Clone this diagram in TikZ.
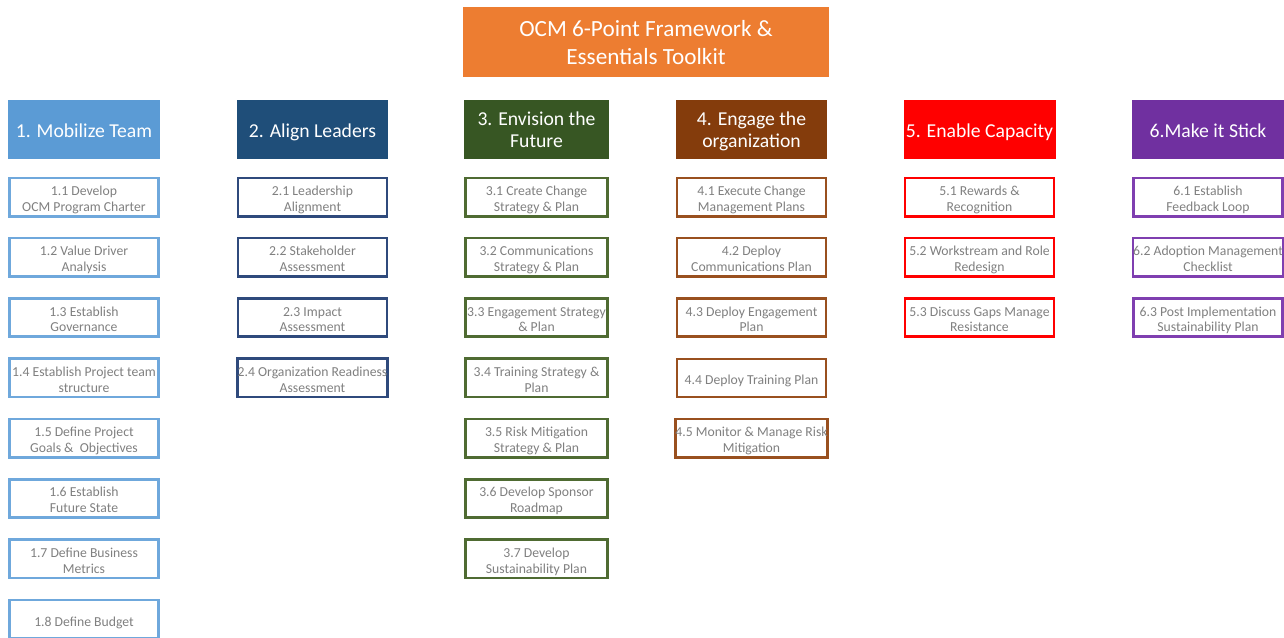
\documentclass[tikz,border=0pt]{standalone}
\usepackage{fontspec}
\setmainfont{Carlito}
\definecolor{ocmorange}{HTML}{ED7D31}
\definecolor{colA}{HTML}{5B9BD5}
\definecolor{colAline}{HTML}{6FA8DC}
\definecolor{colB}{HTML}{1F4E79}
\definecolor{colBline}{HTML}{2F4A7C}
\definecolor{colC}{HTML}{375623}
\definecolor{colCline}{HTML}{4F6B32}
\definecolor{colD}{HTML}{843C0C}
\definecolor{colDline}{HTML}{99501F}
\definecolor{colE}{HTML}{FF0000}
\definecolor{colF}{HTML}{7030A0}
\definecolor{colFline}{HTML}{7F3FB0}
\definecolor{boxgray}{HTML}{808080}
\newcommand\liftht{0pt}
\tikzset{
  lift/.store in=\liftht,
  lifted/.style={execute at begin node={\rule{0pt}{\liftht}}, execute at end node=\strut},
  hdr/.style={fill=#1, text=white, align=center, minimum width=3.04cm, minimum height=1.18cm,
    inner sep=0pt, font=\fontsize{11.2}{13}\selectfont, lifted, lift=24.8pt},
  hdrone/.style={hdr=#1, lift=12.8pt},
  box/.style={draw=#1, line width=1.5pt, fill=white, text=boxgray, align=center,
    minimum width=2.98cm, minimum height=0.76cm, inner sep=0pt, font=\fontsize{7.8}{9.1}\selectfont,
    lifted, lift=19.1pt},
  one/.style={lift=10.6pt},
  two/.style={}
}

\begin{document}
\begin{tikzpicture}[x=0.02cm,y=-0.02cm]
	\useasboundingbox (0,0) rectangle (1284,637);
	\clip (0,0) rectangle (1284,637);

	% title
	\node[hdr=ocmorange, minimum width=7.32cm, minimum height=1.4cm, font=\fontsize{13.2}{16}\selectfont, lift=30.3pt] (title) at (646,42) {OCM 6-Point Framework \&\\Essentials Toolkit};

	% column heads
	\node[hdrone=colA] (h1) at (84,129.5) {1. Mobilize Team};
	\node[hdrone=colB] (h2) at (312.5,129.5) {2. Align Leaders};
	\node[hdr=colC, minimum width=2.9cm] (h3) at (536.5,129.5) {3. Envision the\\Future};
	\node[hdr=colD] (h4) at (751.5,129.5) {4. Engage the\\organization};
	\node[hdrone=colE] (h5) at (979.5,129.5) {5. Enable Capacity};
	\node[hdrone=colF] (h6) at (1208,129.5) {6.Make it Stick};

	% 1
	\foreach \txt/\st [count=\i] in {{1.1 Develop\\OCM Program Charter}/two,{1.2 Value Driver\\Analysis}/two,{1.3 Establish\\Governance}/two,{1.4 Establish Project team\\structure}/two,{1.5 Define Project\\Goals \&\ \ Objectives}/two,{1.6 Establish\\Future State}/two,{1.7 Define Business\\Metrics}/two,{1.8 Define Budget}/one}
		\node[box=colAline, \st] (a\i) at (84,{197+60.3*(\i-1)}) {\txt};
	% 2
	\foreach \txt [count=\i] in {{2.1 Leadership\\Alignment},{2.2 Stakeholder\\Assessment},{2.3 Impact\\Assessment},{2.4 Organization Readiness\\Assessment}}
		\node[box=colBline] (b\i) at (312.5,{197+60.3*(\i-1)}) {\txt};
	% 3
	\foreach \txt [count=\i] in {{3.1 Create Change\\Strategy \& Plan},{3.2 Communications\\Strategy \& Plan},{3.3 Engagement Strategy\\\& Plan},{3.4 Training Strategy \&\\Plan},{3.5 Risk Mitigation\\Strategy \& Plan},{3.6 Develop Sponsor\\Roadmap},{3.7 Develop\\Sustainability Plan}}
		\node[box=colCline, minimum width=2.84cm] (c\i) at (536.5,{197+60.3*(\i-1)}) {\txt};
	% 4
	\foreach \txt/\st [count=\i] in {{4.1 Execute Change\\Management Plans}/two,{4.2 Deploy\\Communications Plan}/two,{4.3 Deploy Engagement\\Plan}/two,{4.4 Deploy Training Plan}/one,{4.5 Monitor \& Manage Risk\\Mitigation}/two}
		\node[box=colDline, \st] (d\i) at (751.5,{197+60.3*(\i-1)}) {\txt};
	% 5
	\foreach \txt [count=\i] in {{5.1 Rewards \&\\Recognition},{5.2 Workstream and Role\\Redesign},{5.3 Discuss Gaps Manage\\Resistance}}
		\node[box=colE] (e\i) at (979.5,{197+60.3*(\i-1)}) {\txt};
	% 6
	\foreach \txt [count=\i] in {{6.1 Establish\\Feedback Loop},{6.2 Adoption Management\\Checklist},{6.3 Post Implementation\\Sustainability Plan}}
		\node[box=colFline] (f\i) at (1208,{197+60.3*(\i-1)}) {\txt};
\end{tikzpicture}
\end{document}
